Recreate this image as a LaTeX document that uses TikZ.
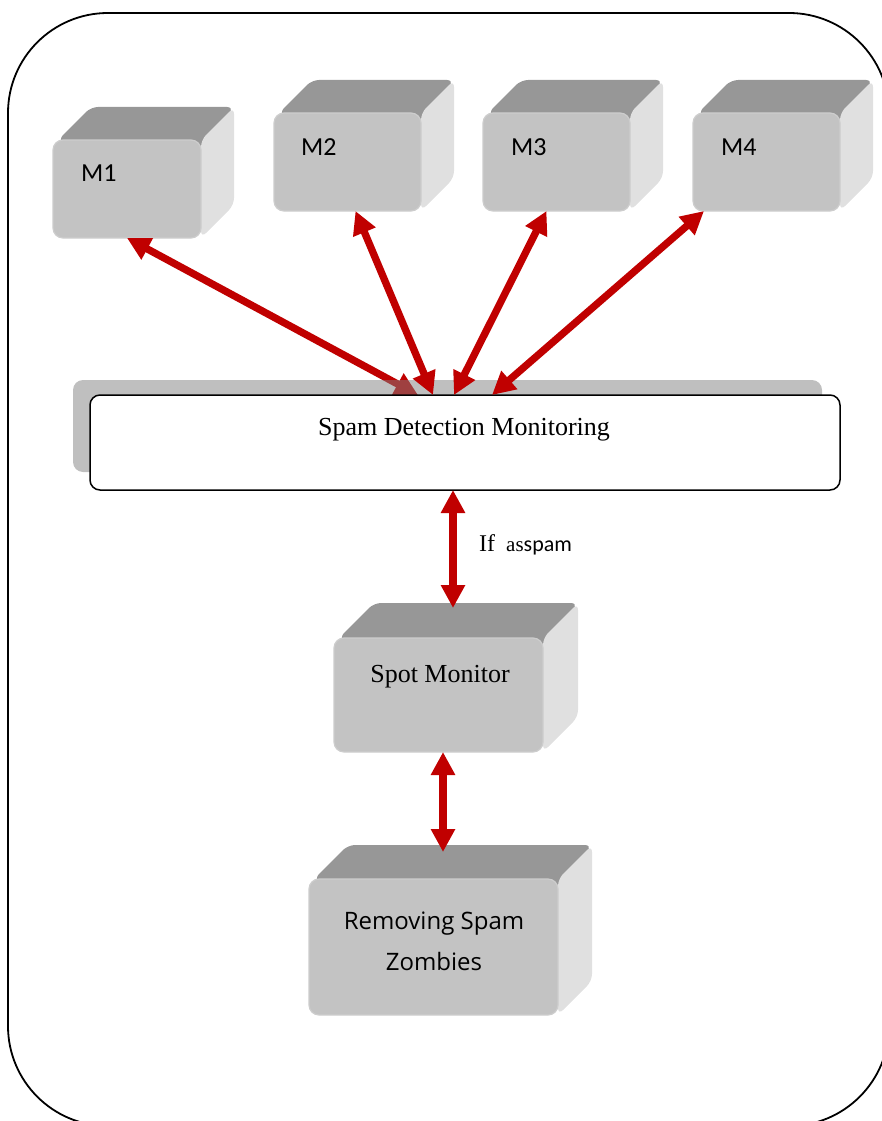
\documentclass[tikz,border=0pt]{standalone}
\usepackage{fontspec}
\setmainfont{Liberation Serif}
\newfontfamily\calib{Carlito}
\newfontfamily\comicf{Open Sans}
\usetikzlibrary{arrows.meta,calc,backgrounds}
\definecolor{ared}{HTML}{C00000}
\definecolor{topg}{HTML}{979797}
\definecolor{frontg}{HTML}{C3C3C3}
\definecolor{sideg}{HTML}{E0E0E0}
\definecolor{edgeg}{HTML}{CDCDCD}
\definecolor{shadowg}{HTML}{808080}
\tikzset{
  front/.style={draw=edgeg, line width=1.2pt, fill=frontg, rounded corners=10pt, inner sep=0pt, outer sep=0pt},
  biarrow/.style={ared, line width=7.3pt, {Triangle[length=23pt,width=23pt]}-{Triangle[length=23pt,width=23pt]}},
  mlab/.style={inner sep=0pt, anchor=west, font=\calib\fontsize{26}{30}\selectfont},
  sertext/.style={inner sep=0pt, anchor=base, font=\fontsize{26}{30}\selectfont},
  comictext/.style={inner sep=0pt, anchor=base, font=\comicf\fontsize{24}{30}\selectfont},
}
% extrusion of a cube behind front node #1 with depth #2
\newcommand\extrude[2]{%
  \fill[topg, rounded corners=7pt] ($(#1.north west)+(5,0)$) -- ++(#2,-#2) -- ($(#1.north east)+(#2,-#2)$) -- ($(#1.north east)+(0,8)$) -- ($(#1.north west)+(12,8)$) -- cycle;
  \fill[sideg, rounded corners=7pt] (#1.north east) -- ($(#1.north east)+(#2,-#2)$) -- ($(#1.south east)+(#2,-#2)$) -- (#1.south east) -- cycle;
}
\begin{document}
\begin{tikzpicture}[x=1pt,y=-1pt]
\useasboundingbox (0,0) rectangle (882,1121);
\begin{scope}
\clip (0,0) rectangle (882,1121);
\draw[line width=1.8pt, rounded corners=100pt] (8,13) rectangle (889,1126);
\end{scope}

% cube front faces
\node[front, minimum width=148pt, minimum height=98pt] (m1) at (127,189) {};
\node[front, minimum width=147pt, minimum height=98pt] (m2) at (347.5,162) {};
\node[front, minimum width=147pt, minimum height=98pt] (m3) at (556.5,162) {};
\node[front, minimum width=147pt, minimum height=98pt] (m4) at (766.5,162) {};
\node[front, minimum width=209pt, minimum height=114pt] (spot) at (438.5,695) {};
\node[front, minimum width=249pt, minimum height=136pt] (rem) at (433.5,947) {};

\begin{pgfonlayer}{background}
\extrude{m1}{33}
\extrude{m2}{33}
\extrude{m3}{33}
\extrude{m4}{33}
\extrude{spot}{35}
\extrude{rem}{34}
\end{pgfonlayer}

% labels
\node[mlab] (m1t) at ($(m1.north west)+(28,33)$) {M1};
\node[mlab] (m2t) at ($(m2.north west)+(27,34)$) {M2};
\node[mlab] (m3t) at ($(m3.north west)+(28,34)$) {M3};
\node[mlab] (m4t) at ($(m4.north west)+(28,34)$) {M4};
\node[sertext] (spott) at (440,682) {Spot Monitor};
\node[comictext] (rem1) at (434,929) {Removing Spam};
\node[comictext] (rem2) at (434,970) {Zombies};

% spam detection box
\coordinate (spamc) at (465,442.5);
\draw[biarrow] (m1.south) -- (418,395);
\fill[shadowg, opacity=0.5, rounded corners=10pt] (73,380) rectangle (822,472);
\node[draw=black, line width=1.5pt, fill=white, rounded corners=10pt, minimum width=750pt, minimum height=95pt, inner sep=0pt, outer sep=0pt] (spam) at (spamc) {};
\node[sertext] (spamt) at (464,435) {Spam Detection Monitoring};

% connectors
\draw[biarrow] ([xshift=8pt]m2.south) -- ([xshift=-32pt]spam.north);
\draw[biarrow] ([xshift=-10pt]m3.south) -- ([xshift=-11pt]spam.north);
\draw[biarrow] ([xshift=11pt]m4.south west) -- ([xshift=27pt]spam.north);
\draw[biarrow] ([xshift=-12pt]spam.south) -- ([xshift=14.5pt,yshift=30pt]spot.north);
\draw[biarrow] ([xshift=4.5pt]spot.south) -- ([xshift=9.5pt,yshift=27pt]rem.north);

\node[inner sep=0pt, anchor=base west] (ifl) at (479,551) {{\fontsize{24}{28}\selectfont If}\hspace{11pt}{\fontsize{21}{24}\selectfont as}{\calib\fontsize{22}{26}\selectfont spam}};
\end{tikzpicture}
\end{document}
